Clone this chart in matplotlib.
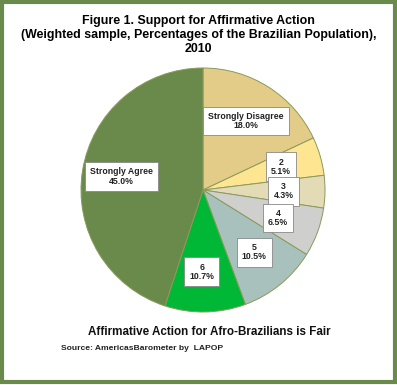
import matplotlib.pyplot as plt
from matplotlib.patches import Rectangle

plt.rcParams['font.family'] = ['Liberation Sans', 'DejaVu Sans']

labels = ['Strongly Disagree', '2', '3', '4', '5', '6', 'Strongly Agree']
values = [18.0, 5.1, 4.3, 6.5, 10.5, 10.7, 45.0]
colors = ['#e3cb88', '#fde592', '#e2dbb6', '#cfcfcd', '#a9c1bd', '#00b836', '#6a8a4b']
# label box positions inside the pie (pie radius = 1)
label_pos = [(0.35, 0.565), (0.64, 0.19), (0.66, -0.01), (0.615, -0.23),
             (0.42, -0.51), (-0.01, -0.67), (-0.67, 0.11)]

W, H = 397, 385
fig = plt.figure(figsize=(W / 100, H / 100), dpi=100)

# green frame
fig.patches.append(Rectangle((2 / W, 3 / H), 393 / W, 380 / H, transform=fig.transFigure,
                             fill=False, edgecolor='#6a8a4b', linewidth=3))

cx, cy, r = 203, 190, 122
ax = fig.add_axes([(cx - r) / W, (H - cy - r) / H, 2 * r / W, 2 * r / H])
ax.pie(values, colors=colors, startangle=90, counterclock=False,
       wedgeprops=dict(edgecolor='#8a9a5a', linewidth=0.7))
ax.set_xlim(-1, 1)
ax.set_ylim(-1, 1)

for lab, v, (x, y) in zip(labels, values, label_pos):
    ax.text(x, y, f'{lab}\n{v:.1f}%', ha='center', va='center', fontsize=6.3,
            fontweight='bold', color='#222222', linespacing=1.05,
            bbox=dict(boxstyle='square,pad=0.6', facecolor='white', edgecolor='#888888', linewidth=0.6))

fig.text(0.5, 1 - 15 / H, 'Figure 1. Support for Affirmative Action\n'
         '(Weighted sample, Percentages of the Brazilian Population),\n2010',
         ha='center', va='top', fontsize=8.9, fontweight='bold', linespacing=1.2)
fig.text(209 / W, 1 - 332 / H, 'Affirmative Action for Afro-Brazilians is Fair',
         ha='center', va='center', fontsize=8.4, fontweight='bold', color='#111111')
fig.text(61 / W, 1 - 349 / H, 'Source: AmericasBarometer by  LAPOP',
         ha='left', va='center', fontsize=6.1, fontweight='bold', color='#222222')

fig.savefig('out.png', dpi=100)
